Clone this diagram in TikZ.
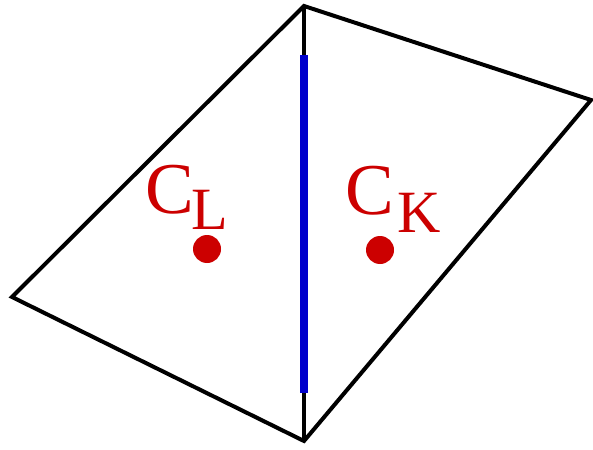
\documentclass[tikz,border=0pt]{standalone}
\usepackage{fontspec}
\setmainfont{Liberation Serif}
\definecolor{lblred}{RGB}{204,0,0}
\definecolor{edgeblue}{RGB}{0,0,204}
\begin{document}
\begin{tikzpicture}[x=1pt,y=-1pt,
  edge/.style={line width=4pt,line join=miter},
  shared/.style={line width=7.5pt,edgeblue},
  dotc/.style={circle,fill=lblred,inner sep=0pt,minimum size=28pt},
  bigc/.style={inner sep=0pt,text=lblred,anchor=base west,font=\fontsize{73}{73}\selectfont},
  subc/.style={inner sep=0pt,text=lblred,anchor=base west,font=\fontsize{60}{60}\selectfont}]
\useasboundingbox (0,0) rectangle (593,449);
\coordinate (T) at (304,6);
\coordinate (R) at (591,100);
\coordinate (B) at (304,441);
\coordinate (Lv) at (12,297);
\coordinate (s1) at (304,55);
\coordinate (s2) at (304,393);
\draw[edge] (T) -- (R) -- (B) -- (Lv) -- cycle;
\draw[edge] (T) -- (B);
\draw[shared] (s1) -- (s2);
\node[dotc] (dL) at (207,249) {};
\node[dotc] (dK) at (380,250) {};
\node[bigc] (cL) at (145,213) {C};
\node[subc] (sL) at (191,229) {L};
\node[bigc] (cK) at (345,214) {C};
\node[subc] (sK) at (397,232) {K};
\end{tikzpicture}
\end{document}
